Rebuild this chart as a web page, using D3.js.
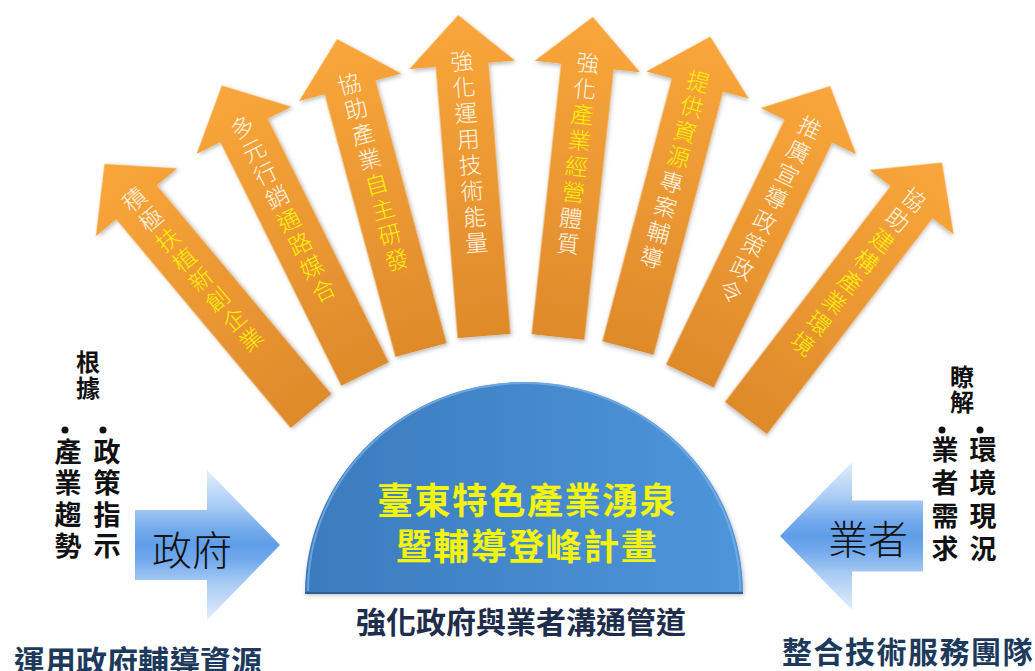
<!DOCTYPE html>
<html><head><meta charset="utf-8">
<script src="https://cdn.jsdelivr.net/npm/d3@7"></script>
<style>
html,body{margin:0;padding:0;background:#fff;}
svg{display:block;}
</style></head>
<body>
<svg id="c" width="1035" height="671"></svg>
<script>
// ---- data ----
const arrowTexts = ["積極扶植新創企業","多元行銷通路媒合","協助產業自主研發","強化運用技術能量","強化產業經營體質","提供資源專案輔導","推廣宣導政策政令","協助建構產業環境"];
const arrowHighlights = [[2,8],[4,8],[4,8],null,[2,6],[0,4],null,[2,8]];
const titleLines = ["臺東特色產業湧泉","暨輔導登峰計畫"];
const subTitle = "強化政府與業者溝通管道";
const govLabel = "政府";
const bizLabel = "業者";
const govHeader = "根據";
const govColumns = ["政策指示","產業趨勢"];
const bizHeader = "瞭解";
const bizColumns = ["環境現況","業者需求"];
const footLeft = "運用政府輔導資源";
const footRight = "整合技術服務團隊";

// ---- layout (geometry only) ----
const FONT = '"Noto Sans CJK TC","Noto Sans CJK SC",sans-serif';
const svg = d3.select("#c");
const defs = svg.append("defs");

const tailX = d3.scaleLinear().domain(d3.range(8)).range([311,365,421,484,558,628,690,746]);
const tailY = d3.scaleLinear().domain(d3.range(8)).range([411,374,350,336,337,348,376,418]);
const rotS  = d3.scaleLinear().domain(d3.range(8)).range([-39.9,-26.4,-15.1,-4.6,6.2,14.8,25.8,37.5]);

const og = defs.append("linearGradient").attr("id","og").attr("x1",0).attr("y1",0).attr("x2",0).attr("y2",1);
og.append("stop").attr("offset","0%").attr("stop-color","#F9A63B");
og.append("stop").attr("offset","100%").attr("stop-color","#DF8A2B");

const sh = defs.append("filter").attr("id","sh").attr("x","-20%").attr("y","-20%").attr("width","140%").attr("height","140%");
sh.append("feDropShadow").attr("dx",1).attr("dy",2).attr("stdDeviation",2).attr("flood-color","#000").attr("flood-opacity",0.28);

const L = 322, H = 50, SW = 53, HW = 106;
const arrowPath = `M${-SW/2},0 L${-SW/2},${-(L-H)} L${-HW/2},${-(L-H)} L0,${-L} L${HW/2},${-(L-H)} L${SW/2},${-(L-H)} L${SW/2},0 Z`;

const arrows = svg.append("g").selectAll("g").data(arrowTexts).join("g")
  .attr("transform",(d,i)=>`translate(${tailX(i)},${tailY(i)}) rotate(${rotS(i)})`);
arrows.append("path").attr("d",arrowPath).attr("fill","url(#og)").attr("filter","url(#sh)");
arrows.each(function(d,i){
  const g = d3.select(this);
  const hl = arrowHighlights[i];
  Array.from(d).forEach((ch,k)=>{
    const yellow = hl && k>=hl[0] && k<hl[1];
    g.append("text").attr("x",0).attr("y",-L+45+k*26)
      .attr("text-anchor","middle").attr("dominant-baseline","central")
      .attr("font-family",FONT).attr("font-weight",300).attr("font-size",23)
      .attr("fill", yellow ? "#FFF200" : "#FFF6E8").text(ch);
  });
});

// ---- dome ----
const cx = 524, baseY = 593, rx = 219, ry = 211;
const bg = defs.append("linearGradient").attr("id","bg").attr("x1",0).attr("y1",0).attr("x2",1).attr("y2",0);
bg.append("stop").attr("offset","0%").attr("stop-color","#3B7BBE");
bg.append("stop").attr("offset","100%").attr("stop-color","#4E95DA");
const domePath = `M${cx-rx},${baseY} A${rx},${ry} 0 0 1 ${cx+rx},${baseY} Z`;
svg.append("path").attr("d",domePath).attr("fill","url(#bg)").attr("filter","url(#sh)");
svg.append("path").attr("d",`M${cx-rx+3},${baseY-2} A${rx-3},${ry-3} 0 0 1 ${cx+rx-3},${baseY-2}`)
  .attr("fill","none").attr("stroke","#7FB3E8").attr("stroke-width",2).attr("opacity",0.7);
svg.append("line").attr("x1",cx-rx).attr("x2",cx+rx).attr("y1",baseY).attr("y2",baseY)
  .attr("stroke","#2E5F95").attr("stroke-width",2);

const title = svg.append("text")
  .attr("text-anchor","middle")
  .attr("font-family",FONT).attr("font-weight",700).attr("font-size",36)
  .style("letter-spacing","1.5px")
  .attr("fill","#F4F40A");
title.selectAll("tspan").data(titleLines).join("tspan")
  .attr("x",cx+3).attr("y",(d,i)=>514+i*46).text(d=>d);

svg.append("text").attr("x",521).attr("y",620)
  .attr("text-anchor","middle").attr("dominant-baseline","central")
  .attr("font-family",FONT).attr("font-weight",700).attr("font-size",30)
  .attr("fill","#1E2D4C").text(subTitle);

// ---- side blue arrows ----
const gg = defs.append("linearGradient").attr("id","blu").attr("x1",0).attr("y1",0).attr("x2",0).attr("y2",1);
[["0%","#E3EEFC"],["25%","#A6CAF4"],["40%","#72A9EC"],["50%","#5F9DE8"],["60%","#72A9EC"],["75%","#A6CAF4"],["100%","#E3EEFC"]]
  .forEach(s=>gg.append("stop").attr("offset",s[0]).attr("stop-color",s[1]));

function blueArrow(x0, xNeck, xTip, cy, shaftH, headH){
  return `M${x0},${cy-shaftH/2} L${xNeck},${cy-shaftH/2} L${xNeck},${cy-headH/2} L${xTip},${cy} L${xNeck},${cy+headH/2} L${xNeck},${cy+shaftH/2} L${x0},${cy+shaftH/2} Z`;
}
svg.append("path").attr("d",blueArrow(135,207,280,545,70,150)).attr("fill","url(#blu)");
svg.append("path").attr("d",blueArrow(923,852,780,536,71,148)).attr("fill","url(#blu)");

svg.append("text").attr("x",192).attr("y",548).attr("text-anchor","middle").attr("dominant-baseline","central")
  .attr("font-family",FONT).attr("font-weight",300).attr("font-size",40).attr("fill","#111").text(govLabel);
svg.append("text").attr("x",868).attr("y",537).attr("text-anchor","middle").attr("dominant-baseline","central")
  .attr("font-family",FONT).attr("font-weight",300).attr("font-size",40).attr("fill","#111").text(bizLabel);

// ---- vertical side texts (vertical writing mode) ----
function vtext(str, x, yTop, pitch, size){
  svg.append("text").attr("x",x).attr("y",yTop)
    .attr("writing-mode","vertical-rl")
    .style("text-orientation","upright")
    .style("letter-spacing",(pitch-size)+"px")
    .attr("text-anchor","start")
    .attr("font-family",FONT).attr("font-weight",700).attr("font-size",size)
    .attr("fill","#111").text(str);
}
vtext(govHeader, 88, 350, 26, 24);
vtext(govColumns[0], 107, 438, 31.5, 27);
vtext(govColumns[1], 68, 438, 31.5, 27);
[65,103].forEach(x=>svg.append("circle").attr("cx",x).attr("cy",430).attr("r",3.5).attr("fill","#111"));

vtext(bizHeader, 962, 365, 25, 24);
vtext(bizColumns[0], 983, 436, 33, 27);
vtext(bizColumns[1], 945, 436, 33, 27);
[942,980].forEach(x=>svg.append("circle").attr("cx",x).attr("cy",430).attr("r",3.5).attr("fill","#111"));

// ---- footers ----
svg.append("text").attr("x",138).attr("y",659).attr("text-anchor","middle").attr("dominant-baseline","central")
  .attr("font-family",FONT).attr("font-weight",700).attr("font-size",31).attr("fill","#1D3A5C").text(footLeft);
svg.append("text").attr("x",908).attr("y",650).attr("text-anchor","middle").attr("dominant-baseline","central")
  .attr("font-family",FONT).attr("font-weight",700).attr("font-size",30)
  .style("letter-spacing","1.5px").attr("fill","#1D3A5C").text(footRight);
</script>
</body></html>
